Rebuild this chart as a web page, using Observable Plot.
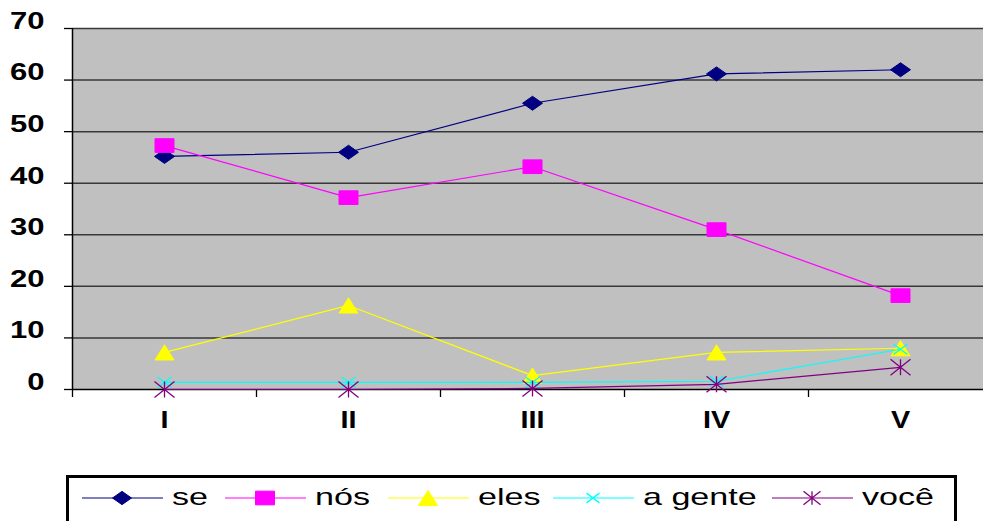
<!DOCTYPE html>
<html><head><meta charset="utf-8">
<script src="https://cdn.jsdelivr.net/npm/d3@7"></script>
<script src="https://cdn.jsdelivr.net/npm/@observablehq/plot@0.6"></script>
<style>
html,body{margin:0;padding:0;background:#fff;overflow:hidden;}
svg{display:block;}
#chart svg{max-width:none !important;}
</style></head><body><div id="chart"></div><div id="legend"></div><script>
// ---- data ----
const categories = ["I", "II", "III", "IV", "V"];
const seriesNames = ["se", "nós", "eles", "a gente", "você"];
const se     = [45.2, 46.0, 55.5, 61.2, 62.0];
const nos    = [47.3, 37.2, 43.2, 31.0, 18.2];
const eles   = [7.2, 16.3, 2.7, 7.2, 8.0];
const aGente = [1.4, 1.4, 1.4, 1.6, 7.8];
const voce   = [0.0, 0.0, 0.2, 1.0, 4.3];
const yTicks = [0, 10, 20, 30, 40, 50, 60, 70];
const colors = ["#000080", "#ff00ff", "#ffff00", "#00ffff", "#800080"];

// ---- stretched Excel-like marker symbols ----
const rr = s => Math.sqrt(s / Math.PI);
const symDiamond = {draw(c, s) {const r = rr(s), h = r * 0.7; c.moveTo(0, -h); c.lineTo(r, 0); c.lineTo(0, h); c.lineTo(-r, 0); c.closePath();}};
const symSquare = {draw(c, s) {const r = rr(s), h = r * 0.72; c.rect(-r, -h, 2 * r, 2 * h);}};
const symTriangle = {draw(c, s) {const r = rr(s), h = r * 0.8; c.moveTo(0, -h); c.lineTo(r, h); c.lineTo(-r, h); c.closePath();}};
const symTimes = {draw(c, s) {const r = rr(s), h = r * 0.75; c.moveTo(-r, -h); c.lineTo(r, h); c.moveTo(r, -h); c.lineTo(-r, h);}};
const symAsterisk = {draw(c, s) {const r = rr(s), h = r * 0.8; c.moveTo(0, -h); c.lineTo(0, h); c.moveTo(-r, -h); c.lineTo(r, h); c.moveTo(r, -h); c.lineTo(-r, h);}};

const seriesValues = [se, nos, eles, aGente, voce];
const symbols = [symDiamond, symSquare, symTriangle, symTimes, symAsterisk];
const markerR = [10, 9.5, 9.5, 7, 10];
const legendR = [9.5, 9.5, 9.5, 6.5, 8.5];
const filled = [true, true, true, false, false];

const rows = [];
seriesNames.forEach((name, k) => seriesValues[k].forEach((v, i) => rows.push({series: name, k, idx: i + 1, cat: categories[i], value: v})));

const FONT = "'Liberation Sans', Arial, Helvetica, sans-serif";

const marks = [
  Plot.frame({fill: "#c0c0c0", stroke: "none"}),
  Plot.gridY(yTicks.filter(t => t > 0), {stroke: "#383838", strokeOpacity: 1, strokeWidth: 1.5}),
  Plot.ruleY([0], {stroke: "#000", strokeWidth: 1.5}),
  Plot.ruleX([0.5], {stroke: "#000", strokeWidth: 1.5}),
  Plot.axisX([0.5, 1.5, 2.5, 3.5, 4.5], {tickSize: 8, tickFormat: () => "", label: null, stroke: "#000", strokeWidth: 1.3}),
  Plot.axisX([1, 2, 3, 4, 5], {tickSize: 0, tickPadding: 21, tickFormat: i => categories[i - 1], label: null, fontSize: 24, fontWeight: "bold", fill: "#000"}),
  Plot.axisY(yTicks, {tickSize: 8, tickFormat: () => "", label: null, stroke: "#000", strokeWidth: 1.3}),
  Plot.axisY(yTicks, {tickSize: 0, tickPadding: 28, dy: -7, label: null, fontSize: 23, fontWeight: "bold", fill: "#000"})
];
seriesNames.forEach((name, k) => {
  const d = rows.filter(r => r.k === k);
  marks.push(Plot.line(d, {x: "idx", y: "value", stroke: colors[k], strokeWidth: 1.2}));
  marks.push(Plot.dot(d, {x: "idx", y: "value", symbol: symbols[k], r: markerR[k],
    fill: filled[k] ? colors[k] : "none", stroke: colors[k], strokeWidth: filled[k] ? 1 : 1.3}));
});

const chart = Plot.plot({
  width: 992, height: 470,
  marginLeft: 72, marginRight: 0, marginTop: 28, marginBottom: 81,
  x: {type: "linear", domain: [0.5, 5.5], axis: null},
  y: {domain: [0, 70], axis: null},
  style: {fontFamily: FONT, color: "#000", background: "transparent", overflow: "visible", maxWidth: "none"},
  marks
});
chart.style.maxWidth = "none";
chart.style.width = "992px";
chart.style.height = "470px";
// horizontally stretched text like the original
chart.querySelectorAll('g[aria-label="y-axis tick label"] text').forEach(t => t.setAttribute("transform", (t.getAttribute("transform") || "") + " scale(1.35,1)"));
chart.querySelectorAll('g[aria-label="x-axis tick label"] text').forEach(t => t.setAttribute("transform", (t.getAttribute("transform") || "") + " scale(1.2,1)"));
document.getElementById("chart").appendChild(chart);

// ---- legend ----
const legendX = [82, 225, 388, 553, 772];
const lg = d3.create("svg").attr("width", 983).attr("height", 51);
lg.append("rect").attr("x", 67.5).attr("y", 6.5).attr("width", 888).attr("height", 70)
  .attr("fill", "none").attr("stroke", "#000").attr("stroke-width", 3);
const ly = 28;
seriesNames.forEach((name, k) => {
  const x0 = legendX[k];
  lg.append("line").attr("x1", x0).attr("x2", x0 + 81).attr("y1", ly).attr("y2", ly)
    .attr("stroke", colors[k]).attr("stroke-width", 1.2);
  lg.append("path").attr("d", d3.symbol(symbols[k], Math.PI * legendR[k] * legendR[k])())
    .attr("transform", `translate(${x0 + 40},${ly})`)
    .attr("fill", filled[k] ? colors[k] : "none").attr("stroke", colors[k]).attr("stroke-width", filled[k] ? 1 : 1.3);
  lg.append("text").attr("transform", `translate(${x0 + 90},${ly + 7}) scale(1.42,1)`)
    .attr("font-family", FONT).attr("font-size", 24).attr("fill", "#000").text(name);
});
document.getElementById("legend").appendChild(lg.node());
</script></body></html>
